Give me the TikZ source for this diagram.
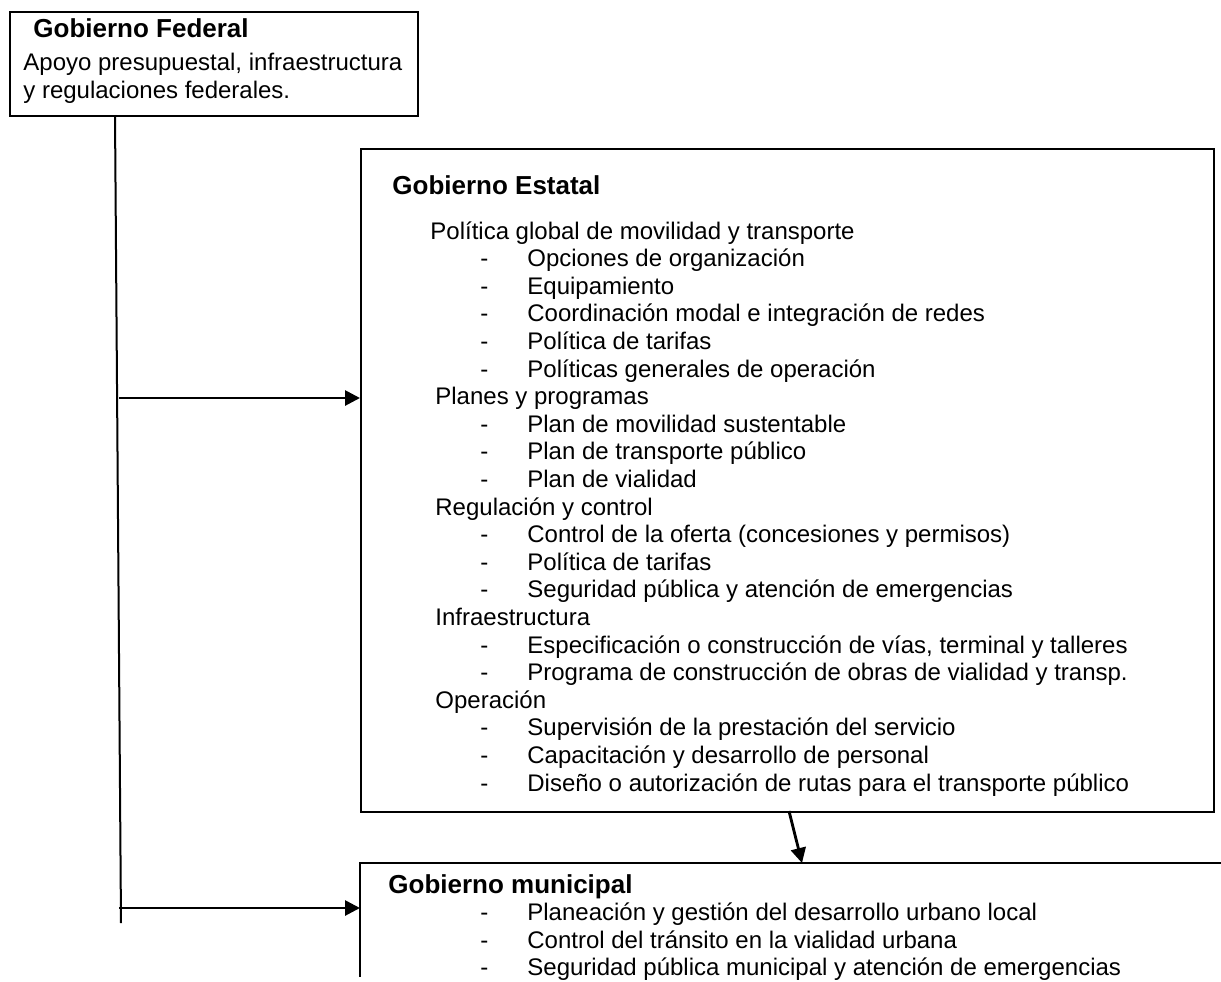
\documentclass[tikz,border=0pt]{standalone}
\usepackage{fontspec}
\setmainfont{Liberation Sans}
\usetikzlibrary{arrows.meta}
\begin{document}
\begin{tikzpicture}[x=0.5pt,y=-0.5pt,
  txt/.style={anchor=base west,inner sep=0pt,font=\fontsize{12}{14}\selectfont},
  ttl/.style={anchor=base west,inner sep=0pt,font=\fontsize{13}{15}\selectfont\bfseries},
  frame/.style={draw,line width=1pt},
  boxnode/.style={frame,anchor=north west,inner sep=0pt},
  fedline/.style={line width=1pt},
  conn/.style={line width=1.4pt,-{Triangle[length=7.5pt,width=7.5pt]}},
  ]
\useasboundingbox (0,0) rectangle (1221,981);

% Federal box
\node[boxnode,minimum width=204pt,minimum height=52pt] (fed) at (9,11) {};
\node[ttl] (fedT) at (33,37) {Gobierno Federal};
\node[txt] (fed1) at (23,70) {Apoyo presupuestal, infraestructura};
\node[txt] (fed2) at (23,98) {y regulaciones federales.};

% State box
\node[boxnode,minimum width=426.5pt,minimum height=331.5pt] (st) at (360,148) {};
\node[ttl] (stT) at (392,194) {Gobierno Estatal};

\foreach \k/\xx/\t in {0/430/{Política global de movilidad y transporte},
  6/435/{Planes y programas},
  10/435/{Regulación y control},
  14/435/{Infraestructura},
  17/435/{Operación}}{
  \node[txt] (sh\k) at (\xx,239+27.6*\k) {\t};
}
\foreach \k/\t in {1/{Opciones de organización},
  2/{Equipamiento},
  3/{Coordinación modal e integración de redes},
  4/{Política de tarifas},
  5/{Políticas generales de operación},
  7/{Plan de movilidad sustentable},
  8/{Plan de transporte público},
  9/{Plan de vialidad},
  11/{Control de la oferta (concesiones y permisos)},
  12/{Política de tarifas},
  13/{Seguridad pública y atención de emergencias},
  15/{Especificación o construcción de vías, terminal y talleres},
  16/{Programa de construcción de obras de vialidad y transp.},
  18/{Supervisión de la prestación del servicio},
  19/{Capacitación y desarrollo de personal},
  20/{Diseño o autorización de rutas para el transporte público}}{
  \node[txt] (sd\k) at (480,239+27.6*\k) {-};
  \node[txt] (si\k) at (527,239+27.6*\k) {\t};
}

% Municipal box (open at right and bottom)
\coordinate (mtl) at (360,863);
\coordinate (mtr) at (1221,863);
\coordinate (mbl) at (360,977);
\draw[frame] (mtr) -- (mtl) -- (mbl);
\node[ttl] (muT) at (388,893) {Gobierno municipal};
\foreach \k/\t in {1/{Planeación y gestión del desarrollo urbano local},
  2/{Control del tránsito en la vialidad urbana},
  3/{Seguridad pública municipal y atención de emergencias}}{
  \node[txt] (md\k) at (480,893+27.6*\k) {-};
  \node[txt] (mi\k) at (527,893+27.6*\k) {\t};
}

% Connectors
\coordinate (ftop) at (115,115);
\coordinate (fbot) at (121,923);
\draw[fedline] (ftop) -- (fbot);
\coordinate (a1) at (119,398);
\coordinate (a2) at (119,908);
\draw[conn] (a1) -- (st.west |- a1);
\draw[conn] (a2) -- (mtl |- a2);
\coordinate (s1) at (789,811);
\coordinate (m1) at (802,863);
\draw[conn] (s1) -- (m1);
\end{tikzpicture}
\end{document}
